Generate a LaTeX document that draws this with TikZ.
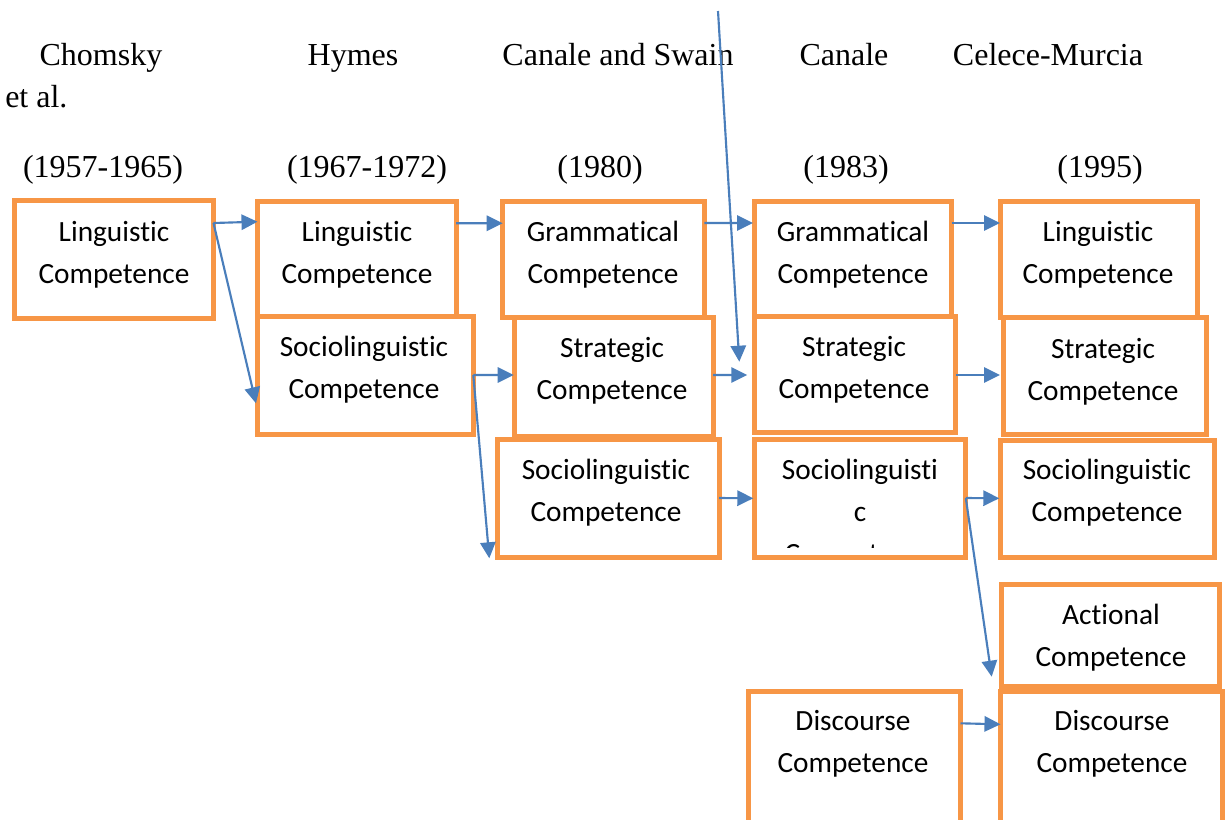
\documentclass[tikz,border=0pt]{standalone}
\usepackage{fontspec}
\setmainfont{Liberation Serif}
\newfontfamily\boxfont[Ligatures={NoCommon,NoContextual,NoRare},Contextuals=NoAlternate]{Carlito}
\usetikzlibrary{arrows.meta,calc}
\definecolor{boxorange}{RGB}{247,150,70}
\definecolor{arrowblue}{RGB}{74,126,187}
\newcommand\twol[2]{\begin{tabular}[t]{@{}c@{}}#1\\#2\end{tabular}}
\newcommand\nl{\kern0pt}
\newcommand\mkbox[5]{\node[compbox, minimum width={(#4-(#2))*0.75pt}, minimum height={(#5-(#3))*0.75pt}] (#1) at ({(#2+#4)/2},{(#3+#5)/2}) {};}
\tikzset{
  compbox/.style={draw=boxorange, line width=3.75pt, fill=white, rectangle, inner sep=0pt, outer sep=0pt},
  btext/.style={font=\boxfont\fontsize{22}{31.5}\selectfont, anchor=base, inner sep=0pt},
  hdr/.style={font=\fontsize{24}{28}\selectfont, anchor=base, inner sep=0pt},
  arr/.style={draw=arrowblue, line width=1.6pt, -{Triangle[length=12pt,width=11.5pt]}},
}
\begin{document}
\begin{tikzpicture}[x=0.75pt,y=-0.75pt]
\useasboundingbox (0,0) rectangle (1225,819);
\clip (0,0) rectangle (1225,819);
% headers
\node[hdr] (h1) at (101,65) {Chomsky};
\node[hdr, anchor=base west] (h1b) at (5,107) {et al.};
\node[hdr] (h2) at (353,65) {Hymes};
\node[hdr] (h3) at (618,65) {Canale and Swain};
\node[hdr] (h4) at (844,65) {Canale};
\node[hdr] (h5) at (1048,65) {Celece-Murcia};
\node[hdr] (y1) at (103,177) {(1957-1965)};
\node[hdr] (y2) at (367,177) {(1967-1972)};
\node[hdr] (y3) at (600,177) {(1980)};
\node[hdr] (y4) at (846,177) {(1983)};
\node[hdr] (y5) at (1100,177) {(1995)};
% boxes
\mkbox{a1}{14.5}{200.5}{213.5}{318.5}
\mkbox{b1}{257.5}{201}{456}{316}
\mkbox{b2}{257.5}{316}{473.3}{434.2}
\mkbox{c1}{502.7}{201}{704.3}{317.7}
\mkbox{c2}{514.2}{317.5}{713}{436}
\mkbox{c3}{497.5}{439.5}{719}{557.5}
\mkbox{d1}{754}{201}{951.7}{316.5}
\mkbox{d2}{754}{316.3}{955.8}{432.5}
\mkbox{d3}{754.2}{439.7}{965.8}{557.5}
\mkbox{d4}{748.3}{691}{960.5}{850}
\mkbox{e1}{1000.8}{201}{1197.5}{317}
\mkbox{e2}{1003}{317.5}{1206.5}{434.2}
\mkbox{e3}{1000.8}{440.8}{1214}{557.5}
\mkbox{e4}{1001.3}{584}{1219}{686.7}
\mkbox{e5}{1000.5}{691.3}{1222}{850}
% box texts
\node[btext] (a1t) at (114,241) {\twol{Linguist\nl ic}{Competence}};
\node[btext] (b1t) at (357,241) {\twol{Linguist\nl ic}{Competence}};
\node[btext] (b2t) at (364,356.5) {\twol{Sociolinguist\nl ic}{Competence}};
\node[btext] (c1t) at (603,241) {\twol{Grammat\nl ical}{Competence}};
\node[btext] (c2t) at (612,357.5) {\twol{Strategic}{Competence}};
\node[btext] (c3t) at (606,479.5) {\twol{Sociolinguist\nl ic}{Competence}};
\node[btext] (d1t) at (853,241) {\twol{Grammat\nl ical}{Competence}};
\node[btext] (d2t) at (854,356.5) {\twol{Strategic}{Competence}};
\begin{scope}
\clip (756.7,442.7) rectangle (963.3,547);
\node[btext] (d3t) at (860,479.5) {\begin{tabular}[t]{@{}c@{}}Sociolinguist\nl i\\c\\Competence\end{tabular}};
\end{scope}
\node[btext] (d4t) at (853,730.5) {\twol{Discourse}{Competence}};
\node[btext] (e1t) at (1098,241) {\twol{Linguist\nl ic}{Competence}};
\node[btext] (e2t) at (1103,358.5) {\twol{Strategic}{Competence}};
\node[btext] (e3t) at (1107,479.5) {\twol{Sociolinguist\nl ic}{Competence}};
\node[btext] (e4t) at (1111,624.5) {\twol{Act\nl ional}{Competence}};
\node[btext] (e5t) at (1112,730.5) {\twol{Discourse}{Competence}};
% connectors
\coordinate (topend) at (718,11);
\draw[arr] ($(a1.north east)+(0,22.5)$) -- ($(b1.north west)+(0,20.7)$);
\draw[arr] ($(a1.north east)+(0,22.5)$) -- ($(b2.north west)+(-1.5,87.3)$);
\draw[arr] ($(b1.north east)+(0,22.3)$) -- ($(c1.north west)+(0,22.3)$);
\draw[arr] ($(c1.north east)+(0,22)$) -- ($(d1.north west)+(-1,22)$);
\draw[arr] (topend) -- ($(d2.north west)+(-14.7,45.4)$);
\draw[arr] ($(d1.north east)+(0,22)$) -- ($(e1.north west)+(-0.8,22)$);
\draw[arr] ($(b2.north east)+(0,59)$) -- ($(c2.north west)+(-0.5,57.5)$);
\draw[arr] ($(b2.north east)+(0,59)$) -- ($(c3.south west)+(-8.2,0.8)$);
\draw[arr] ($(c2.north east)+(0,57.5)$) -- ($(d2.north west)+(-6.7,58.7)$);
\draw[arr] ($(d2.north east)+(0,58.7)$) -- ($(e2.north west)+(-3,57.5)$);
\draw[arr] ($(c3.north east)+(0,58.5)$) -- ($(d3.north west)+(-0.9,58.6)$);
\draw[arr] ($(d3.north east)+(0,58.3)$) -- ($(e3.north west)+(-1.5,57.5)$);
\draw[arr] ($(d3.north east)+(0,58.3)$) -- ($(e4.north west)+(-9.6,92.7)$);
\draw[arr] ($(d4.north east)+(0,32.3)$) -- ($(e5.north west)+(0,33)$);
\end{tikzpicture}
\end{document}
